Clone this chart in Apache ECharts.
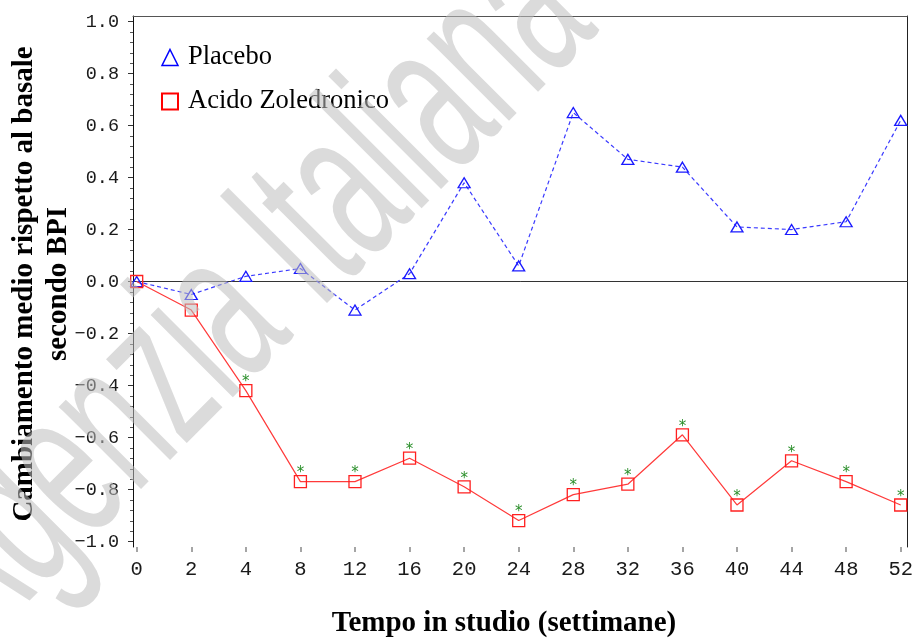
<!DOCTYPE html>
<html>
<head>
<meta charset="utf-8">
<script src="https://cdn.jsdelivr.net/npm/echarts@6/dist/echarts.min.js"></script>
<style>
html,body{margin:0;padding:0;background:#fff;}
#chart{width:916px;height:639px;}
</style>
</head>
<body>
<div id="chart"></div>
<script>
// ---- data ----
const weeks = ['0','2','4','8','12','16','20','24','28','32','36','40','44','48','52'];
const placebo = [0.00,-0.05,0.02,0.05,-0.11,0.03,0.38,0.06,0.65,0.47,0.44,0.21,0.20,0.23,0.62];
const zoledronic = [0.00,-0.11,-0.42,-0.77,-0.77,-0.68,-0.79,-0.92,-0.82,-0.78,-0.59,-0.86,-0.69,-0.77,-0.86];
const significant = [false,false,true,true,true,true,true,true,true,true,true,true,true,true,true];
const seriesNames = ['Placebo','Acido Zoledronico'];
const yMin = -1.0, yMax = 1.0, yStep = 0.2;
const xTitle = 'Tempo in studio (settimane)';
const yTitle1 = 'Cambiamento medio rispetto al basale';
const yTitle2 = 'secondo BPI';
const watermark = 'Agenzia Italiana';

// ---- chart ----
const chart = echarts.init(document.getElementById('chart'), null, {renderer:'canvas'});
const frameExt = 1.0217;
const monoY = '"Liberation Mono","DejaVu Sans Mono",monospace';

const option = {
  backgroundColor:'#ffffff',
  animation:false,
  grid:[
    {left:133, right:8.7, top:16, bottom:92},     // frame + zero line
    {left:133, right:8.7, top:21.7, bottom:97.3}, // y ticks/labels
    {left:136.7, right:14, top:16, bottom:92}     // data + x ticks/labels
  ],
  xAxis:[
    {gridIndex:0, type:'value', min:0, max:1, position:'bottom',
     axisLine:{show:true, onZero:true, lineStyle:{color:'#333', width:1}},
     axisTick:{show:false}, axisLabel:{show:false}, splitLine:{show:false}},
    {gridIndex:0, type:'value', min:0, max:1, position:'top',
     axisLine:{show:true, onZero:false, lineStyle:{color:'#555', width:1}},
     axisTick:{show:false}, axisLabel:{show:false}, splitLine:{show:false}},
    {gridIndex:1, type:'value', min:0, max:1, show:false},
    {gridIndex:2, type:'category', data:weeks, boundaryGap:false, position:'bottom',
     axisLine:{show:false, onZero:false},
     axisTick:{show:true, alignWithLabel:true, length:5, lineStyle:{color:'#888', width:1.5}},
     axisLabel:{show:true, margin:12, color:'#1a1a1a', fontFamily:monoY, fontSize:20.5, interval:0},
     splitLine:{show:false}}
  ],
  yAxis:[
    {gridIndex:0, type:'value', min:-frameExt, max:frameExt, position:'left',
     axisLine:{show:true, onZero:false, lineStyle:{color:'#111', width:1}},
     axisTick:{show:false}, axisLabel:{show:false}, splitLine:{show:false}},
    {gridIndex:0, type:'value', min:-frameExt, max:frameExt, position:'right',
     axisLine:{show:true, onZero:false, lineStyle:{color:'#222', width:1}},
     axisTick:{show:false}, axisLabel:{show:false}, splitLine:{show:false}},
    {gridIndex:1, type:'value', min:yMin, max:yMax, interval:yStep, position:'left',
     axisLine:{show:false, onZero:false},
     axisTick:{show:true, length:5, lineStyle:{color:'#333', width:1}},
     minorTick:{show:true, splitNumber:5, length:3, lineStyle:{color:'#555', width:1}},
     axisLabel:{show:true, margin:14, color:'#1a1a1a', fontFamily:monoY, fontSize:18.5,
       formatter:v => (Math.abs(v) < 1e-9 ? 0 : v).toFixed(1).replace('-', '\u2212')},
     splitLine:{show:false}},
    {gridIndex:2, type:'value', min:-frameExt, max:frameExt, show:false}
  ],
  legend:{
    orient:'vertical', left:161, top:44, padding:0, itemWidth:16, itemHeight:16, itemGap:17,
    selectedMode:false,
    textStyle:{fontFamily:'"Liberation Serif","Times New Roman",serif', fontSize:26.5, color:'#000', padding:[0,0,0,5]},
    data:[
      {name:seriesNames[0], icon:'triangle', itemStyle:{color:'rgba(0,0,0,0)', borderColor:'#0000ff', borderWidth:1.5}},
      {name:seriesNames[1], icon:'rect', itemStyle:{color:'rgba(0,0,0,0)', borderColor:'#ff0000', borderWidth:2}}
    ]
  },
  series:[
    {
      name:seriesNames[0], type:'line', xAxisIndex:3, yAxisIndex:3,
      data:placebo,
      symbol:'triangle', symbolSize:[12,10],
      itemStyle:{color:'rgba(0,0,0,0)', borderColor:'#1a1aff', borderWidth:1.3},
      lineStyle:{color:'#3a3aff', width:1.2, type:[4,3]},
      z:3
    },
    {
      name:seriesNames[1], type:'line', xAxisIndex:3, yAxisIndex:3,
      data:zoledronic.map((v,i)=>({
        value:v,
        label:{show:significant[i], formatter:'*', position:'top', distance:0, offset:[0,6],
               color:'#2a8f2a', fontSize:15, fontFamily:'"DejaVu Sans",sans-serif'}
      })),
      symbol:'rect', symbolSize:12,
      itemStyle:{color:'rgba(0,0,0,0)', borderColor:'#ff2020', borderWidth:1.3},
      lineStyle:{color:'#ff3a3a', width:1.2},
      z:3
    }
  ],
  graphic:[
    {type:'text', x:25, y:284, rotation:Math.PI/2, silent:true,
     style:{text:yTitle1, font:'bold 29px "Liberation Serif","Times New Roman",serif', fill:'#000',
            align:'center', verticalAlign:'middle', textAlign:'center', textVerticalAlign:'middle'}},
    {type:'text', x:59, y:284, rotation:Math.PI/2, silent:true,
     style:{text:yTitle2, font:'bold 29px "Liberation Serif","Times New Roman",serif', fill:'#000',
            align:'center', verticalAlign:'middle', textAlign:'center', textVerticalAlign:'middle'}},
    {type:'text', x:504, y:624, silent:true,
     style:{text:xTitle, font:'bold 29px "Liberation Serif","Times New Roman",serif', fill:'#000',
            align:'center', verticalAlign:'middle', textAlign:'center', textVerticalAlign:'middle'}},
    {type:'text', x:-63, y:607, rotation:Math.PI/4, scaleX:0.56, scaleY:1, silent:true, z:100,
     style:{text:watermark, font:'normal 220px "Liberation Sans",Arial,sans-serif', fill:'rgba(190,190,190,0.55)',
            align:'left', verticalAlign:'middle', textAlign:'left', textVerticalAlign:'middle'}}
  ]
};
chart.setOption(option);
</script>
</body>
</html>
